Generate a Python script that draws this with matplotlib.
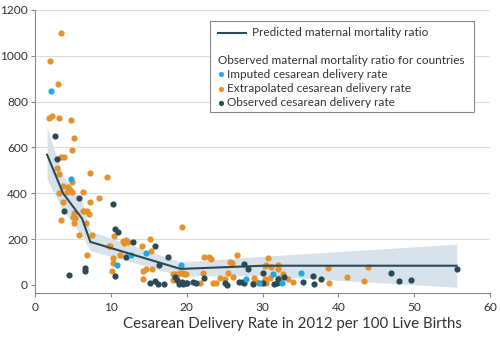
import matplotlib.pyplot as plt
from matplotlib.patches import Rectangle
from matplotlib.lines import Line2D

plt.rcParams['font.family'] = ['Lato', 'DejaVu Sans']

# observed MMR, by how the cesarean rate was obtained
extrap_x = [3.4, 2.0, 3.0, 1.9, 2.2, 3.2, 4.7, 5.1, 4.9, 3.4, 3.8, 2.9,
            7.3, 9.5, 3.2, 4.9, 3.7, 4.4, 4.6, 4.9, 4.2, 3.2, 6.3, 8.4, 3.7, 7.3,
            6.5, 6.9, 6.3, 5.0, 3.4, 7.1, 5.1, 5.3, 5.1, 6.7, 5.8, 7.5, 6.9,
            10.4, 9.7, 9.9, 11.6, 12.0, 12.2, 11.8, 14.1, 15.2, 15.3,
            11.2, 10.3, 10.3, 10.2, 14.3, 14.6, 15.4, 14.3, 18.2, 18.5, 18.9, 19.6, 19.9,
            18.2, 19.4, 22.3, 23.0, 23.2, 26.6, 25.7, 26.0, 30.7, 30.5, 22.2, 19.1, 19.5,
            25.5, 24.4, 25.0, 26.1, 23.5, 23.9, 21.8, 28.8, 29.3, 30.3,
            30.3, 31.1, 32.1, 32.1, 32.7, 38.7, 43.9, 41.2, 38.8, 43.4, 28.9, 29.7,
            30.5, 30.3, 31.0, 32.1, 32.3, 33.4, 34.0]
extrap_y = [1100, 978, 878, 729, 738, 729, 720, 642, 590, 559, 559, 511,
            489, 472, 485, 450, 432, 428, 415, 406, 406, 402, 406, 380, 362, 362,
            323, 323, 323, 297, 282, 310, 314, 293, 271, 271, 220, 220, 131,
            214, 170, 170, 192, 197, 186, 183, 170, 201, 148,
            131, 118, 96, 61, 61, 70, 70, 26, 48, 48, 48, 48, 48,
            22, 253, 122, 122, 114, 131, 100, 96, 118, 87, 52, 52, 52,
            52, 31, 26, 35, 9, 9, 9, 9, 13, 22,
            83, 79, 87, 70, 48, 74, 79, 35, 9, 17, 31, 9,
            9, 26, 31, 31, 13, 26, 13]

obs_x = [2.6, 2.9, 5.8, 3.8, 4.5, 6.6, 6.6, 10.3, 10.6, 11.0, 12.9, 15.8,
         12.0, 17.5, 16.4, 10.6, 15.2, 15.8, 16.2, 17.0, 18.5, 18.7, 19.0, 19.5,
         19.9, 27.6, 28.1, 22.3, 30.0, 26.9, 27.3, 27.6, 25.1, 25.3, 20.8, 21.2,
         20.1, 19.4, 30.1, 32.8, 36.7, 37.7, 36.8, 35.4, 47.0, 48.0, 49.6, 55.7,
         28.8, 31.5, 31.9, 32.1]
obs_y = [650, 550, 378, 321, 44, 74, 63, 354, 243, 231, 188, 170,
         122, 122, 87, 37, 9, 17, 4, 4, 35, 22, 4, 4,
         9, 92, 70, 31, 52, 13, 13, 9, 9, 0, 13, 9,
         9, 13, 9, 35, 39, 26, 4, 13, 52, 17, 22, 70,
         4, 4, 9, 26]

imput_x = [2.1, 4.7, 12.7, 10.8, 14.6, 19.3, 27.8, 29.6, 31.4, 32.6, 35.1]
imput_y = [848, 463, 131, 87, 140, 87, 26, 9, 48, 9, 52]

# predicted line and its confidence band
pred_x = [1.6, 3.7, 6.2, 7.3, 19.2, 30.0, 55.6]
pred_y = [568, 400, 290, 188, 70, 84, 84]
band_lo = [460, 325, 215, 150, 40, 40, -10]
band_hi = [686, 475, 365, 235, 100, 125, 178]

ORANGE = '#e5912c'
DARK = '#2b4a55'
BLUE = '#22a9df'
BAND = '#d7e2ea'

fig = plt.figure(figsize=(5, 3.39), dpi=100)
ax = fig.add_axes([0.07, 0.1357, 0.91, 0.835])

ax.fill_between(pred_x, band_lo, band_hi, color=BAND, lw=0, zorder=1)
for y in range(200, 1201, 200):
    ax.axhline(y, color='#dddddd', lw=0.8, zorder=0)

ax.scatter(extrap_x, extrap_y, s=20, color=ORANGE, lw=0, zorder=3)
ax.scatter(obs_x, obs_y, s=20, color=DARK, lw=0, zorder=3)
ax.scatter(imput_x, imput_y, s=20, color=BLUE, lw=0, zorder=3)
ax.plot(pred_x, pred_y, color=DARK, lw=1.5, zorder=4)

ax.set_xlim(0, 60)
ax.set_ylim(-35, 1200)
ax.set_xticks(range(0, 61, 10))
ax.set_yticks(range(0, 1201, 200))
for s in ('top', 'right'):
    ax.spines[s].set_visible(False)
for s in ('left', 'bottom'):
    ax.spines[s].set_color('#888888')
    ax.spines[s].set_linewidth(0.8)
ax.tick_params(colors='#888888', labelcolor='#333333', labelsize=8.6,
               length=3, width=0.8)
ax.tick_params(axis='y', pad=2)
ax.set_xlabel('Cesarean Delivery Rate in 2012 per 100 Live Births',
              fontsize=10.8, color='#333333')
ax.xaxis.set_label_coords(0.565, -0.085)

# legend box
tr = ax.transAxes
ax.add_patch(Rectangle((0.385, 0.64), 0.58, 0.32, transform=tr,
                       facecolor='white', edgecolor='#888888', lw=0.8, zorder=5))
ax.add_line(Line2D([0.403, 0.463], [0.92, 0.92], transform=tr, color=DARK,
                   lw=1.5, zorder=6))
ax.text(0.478, 0.92, 'Predicted maternal mortality ratio', transform=tr,
        fontsize=8.5, va='center', color='#333333', zorder=6)
ax.text(0.403, 0.822, 'Observed maternal mortality ratio for countries',
        transform=tr, fontsize=8.5, va='center', color='#333333', zorder=6)
rows = [('Imputed cesarean delivery rate', BLUE),
        ('Extrapolated cesarean delivery rate', ORANGE),
        ('Observed cesarean delivery rate', DARK)]
for i, (lab, c) in enumerate(rows):
    yy = 0.772 - i * 0.05
    ax.scatter([0.408], [yy], s=14, color=c, lw=0, transform=tr, zorder=6)
    ax.text(0.423, yy, lab, transform=tr, fontsize=8.5, va='center',
            color='#333333', zorder=6)

fig.savefig('out.png', dpi=100)
